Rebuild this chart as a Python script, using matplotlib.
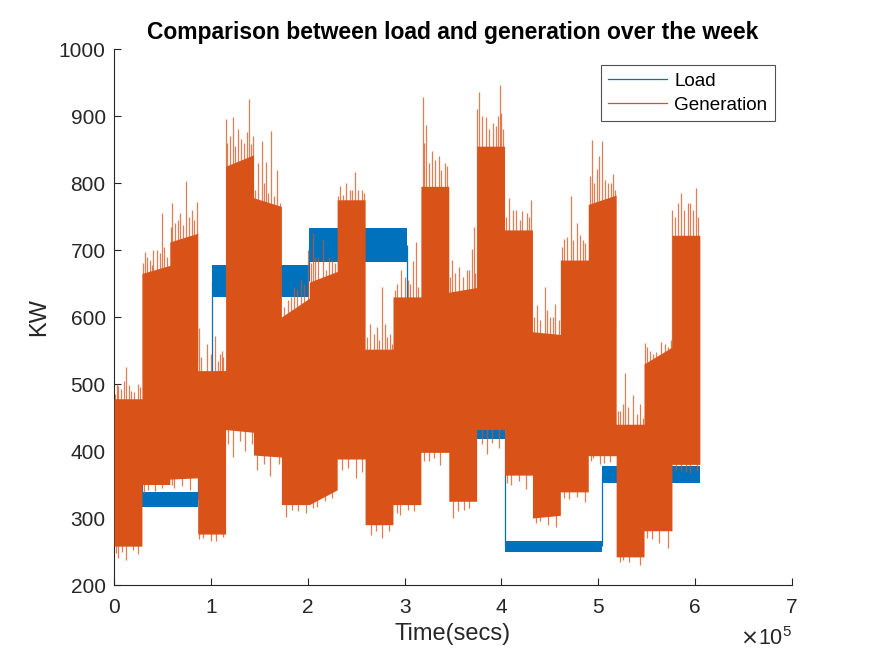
import numpy as np
import matplotlib
matplotlib.use("Agg")
import matplotlib.pyplot as plt
from matplotlib.lines import Line2D

plt.rcParams['font.family'] = ['Liberation Sans', 'DejaVu Sans']

# ---- data (time in units of 1e5 s, power in KW) ----
gen_edges = [0.0, 0.288, 0.576, 0.864, 1.152, 1.44, 1.728, 2.016, 2.304, 2.592, 2.88,
             3.168, 3.456, 3.744, 4.032, 4.32, 4.608, 4.896, 5.184, 5.472, 5.76, 6.048]
# dense part of the generation trace, per 8 h block
gen_top_start = [478, 665, 712, 520, 825, 778, 600, 652, 775, 552, 630,
                 795, 637, 855, 730, 578, 685, 768, 440, 530, 722]
gen_top_end = [478, 677, 725, 520, 842, 765, 628, 668, 775, 552, 630,
               795, 644, 855, 730, 574, 685, 782, 440, 555, 722]
gen_bot_start = [258, 350, 358, 276, 432, 394, 320, 320, 388, 290, 320,
                 398, 325, 432, 364, 300, 339, 393, 242, 281, 380]
gen_bot_end = [258, 350, 360, 276, 428, 391, 320, 342, 388, 290, 320,
               398, 325, 432, 364, 304, 339, 393, 242, 281, 380]

# peaks sticking out above the generation band
peak_t = [0.01, 0.03, 0.045, 0.07, 0.1, 0.124, 0.15, 0.18, 0.21, 0.25, 0.27,
          0.30, 0.32, 0.34, 0.37, 0.39, 0.406, 0.44, 0.475, 0.499, 0.52, 0.55,
          0.59, 0.595, 0.63, 0.66, 0.681, 0.71, 0.746, 0.77, 0.80, 0.83, 0.853,
          0.88, 0.90, 0.96, 1.0, 1.042, 1.07, 1.09, 1.11, 1.13,
          1.156, 1.17, 1.20, 1.225, 1.25, 1.28, 1.31, 1.34, 1.369, 1.39, 1.41, 1.43,
          1.46, 1.49, 1.524, 1.55, 1.569, 1.59, 1.617, 1.65, 1.68, 1.71,
          1.75, 1.80, 1.83, 1.86, 1.89, 1.93, 1.96, 2.0,
          2.03, 2.057, 2.08, 2.11, 2.16, 2.19, 2.22, 2.246, 2.28,
          2.315, 2.33, 2.367, 2.40, 2.44, 2.46, 2.487, 2.52, 2.556, 2.58,
          2.61, 2.642, 2.68, 2.71, 2.74, 2.769, 2.797, 2.82, 2.85, 2.87,
          2.9, 2.92, 2.958, 3.0, 3.04, 3.06, 3.082, 3.117, 3.14,
          3.185, 3.20, 3.226, 3.25, 3.285, 3.31, 3.357, 3.38, 3.415, 3.44,
          3.47, 3.49, 3.52, 3.56, 3.6, 3.64, 3.67, 3.691, 3.715, 3.73,
          3.75, 3.77, 3.8, 3.84, 3.87, 3.915, 3.94, 3.96, 3.99, 4.0, 4.018,
          4.05, 4.08, 4.12, 4.155, 4.19, 4.217, 4.26, 4.28, 4.3,
          4.34, 4.362, 4.4, 4.448, 4.47, 4.5, 4.53, 4.55, 4.59,
          4.63, 4.647, 4.68, 4.713, 4.74, 4.78, 4.81, 4.84, 4.86,
          4.91, 4.93, 4.96, 4.988, 5.01, 5.04, 5.07, 5.10, 5.13, 5.153, 5.17,
          5.2, 5.22, 5.25, 5.28, 5.31, 5.363, 5.4, 5.43, 5.46,
          5.48, 5.5, 5.53, 5.566, 5.6, 5.65, 5.69, 5.72, 5.75,
          5.765, 5.79, 5.82, 5.85, 5.88, 5.925, 5.95, 5.98, 6.01, 6.03]
peak_v = [485, 500, 497, 492, 505, 526, 498, 490, 488, 500, 495,
          680, 697, 690, 685, 678, 700, 700, 695, 755, 705, 690,
          735, 770, 740, 745, 755, 738, 803, 750, 760, 745, 772,
          583, 540, 560, 545, 571, 535, 545, 550, 540,
          896, 860, 870, 898, 855, 880, 865, 860, 876, 926, 858, 870,
          790, 830, 862, 800, 832, 785, 877, 780, 820, 770,
          615, 625, 630, 645, 640, 655, 650, 700,
          680, 725, 690, 690, 715, 670, 690, 685, 680,
          780, 795, 782, 800, 790, 790, 817, 790, 790, 785,
          570, 590, 575, 585, 565, 645, 590, 570, 575, 560,
          640, 650, 670, 660, 655, 650, 683, 712, 645,
          929, 860, 886, 830, 848, 835, 841, 820, 830, 825,
          660, 685, 665, 675, 660, 670, 670, 702, 735, 665,
          911, 936, 900, 899, 880, 890, 885, 900, 946, 905, 880,
          750, 777, 760, 760, 745, 758, 755, 750, 775,
          600, 618, 595, 645, 610, 600, 600, 620, 595,
          705, 717, 720, 780, 715, 740, 722, 715, 710,
          810, 864, 800, 821, 840, 862, 805, 800, 800, 814, 790,
          460, 459, 470, 516, 465, 484, 455, 470, 450,
          561, 555, 550, 545, 548, 563, 560, 555, 565,
          760, 750, 770, 785, 760, 770, 770, 760, 792, 750]

# dips below the generation band
dip_t = [0.02, 0.04, 0.08, 0.12, 0.2, 0.25, 0.31, 0.35, 0.42, 0.5, 0.6, 0.62, 0.7, 0.78,
         0.88, 0.92, 1.0, 1.05, 1.13, 1.18, 1.23, 1.3, 1.35, 1.42, 1.48, 1.55, 1.61, 1.70,
         1.78, 1.84, 1.9, 1.98, 2.05, 2.1, 2.18, 2.25, 2.35, 2.42, 2.5, 2.56,
         2.65, 2.7, 2.77, 2.84, 2.92, 2.95, 3.03, 3.1, 3.2, 3.25, 3.3, 3.37,
         3.5, 3.55, 3.61, 3.66, 3.8, 3.85, 3.9, 3.97, 4.06, 4.1, 4.18, 4.25,
         4.36, 4.4, 4.48, 4.56, 4.65, 4.7, 4.78, 4.86, 4.92, 4.95, 5.02, 5.06, 5.12,
         5.22, 5.25, 5.32, 5.43, 5.5, 5.55, 5.63, 5.72, 5.8, 5.85, 5.9, 5.95, 6.02]
dip_v = [248, 240, 250, 237, 252, 246, 338, 342, 340, 345, 350, 345, 348, 342,
         268, 270, 266, 265, 272, 410, 391, 415, 400, 410, 371, 380, 363, 380,
         302, 312, 310, 308, 315, 317, 325, 330, 372, 375, 359, 368,
         275, 280, 270, 280, 308, 305, 312, 310, 385, 385, 390, 379,
         300, 310, 312, 315, 410, 396, 412, 405, 352, 350, 355, 344,
         292, 295, 290, 286, 330, 328, 332, 324, 385, 390, 380, 382, 384,
         235, 238, 234, 230, 270, 268, 262, 255, 372, 370, 368, 367, 370]

load_edges = [0.0, 0.288, 0.864, 1.008, 2.016, 3.024, 4.032, 5.04, 6.048]
load_low = [400, 317, 465, 630, 682, 418, 249, 353]
load_high = [425, 339, 505, 678, 733, 436, 266, 378]

blue = '#0072BD'
orange = '#D95319'
txt = '#262626'

fig = plt.figure(figsize=(8.75, 6.56), dpi=100)
ax = fig.add_axes([0.1303, 0.1082, 0.7749, 0.8171])

sc = 1e5
# load band
le = np.array(load_edges) * sc
lx = np.repeat(le, 2)[1:-1]
ax.fill_between(lx, np.repeat(load_low, 2), np.repeat(load_high, 2), color=blue, lw=0, zorder=1)
mid = (np.array(load_low) + np.array(load_high)) / 2
ax.vlines(le[1:-1], mid[:-1], mid[1:], color=blue, lw=0.9, zorder=1)

# generation band
ge = np.array(gen_edges) * sc
gx = np.repeat(ge, 2)[1:-1]
gtop = np.column_stack([gen_top_start, gen_top_end]).ravel()
gbot = np.column_stack([gen_bot_start, gen_bot_end]).ravel()
ax.fill_between(gx, gbot, gtop, color=orange, lw=0, zorder=3)

# spikes
gmid = (np.array(gen_top_start) + np.array(gen_bot_start)) / 2
idx = np.clip(np.searchsorted(ge, np.array(peak_t) * sc) - 1, 0, len(gmid) - 1)
ax.vlines(np.array(peak_t) * sc, gmid[idx], peak_v, color=orange, lw=0.9, alpha=0.75, zorder=2)
idx = np.clip(np.searchsorted(ge, np.array(dip_t) * sc) - 1, 0, len(gmid) - 1)
ax.vlines(np.array(dip_t) * sc, dip_v, gmid[idx], color=orange, lw=0.9, alpha=0.75, zorder=2)

ax.set_xlim(0, 7e5)
ax.set_ylim(200, 1000)
ax.set_xticks(np.arange(0, 8) * sc)
ax.set_xticklabels([str(k) for k in range(8)])
ax.set_yticks(np.arange(200, 1001, 100))

for s in ['top', 'right']:
    ax.spines[s].set_visible(False)
for s in ['left', 'bottom']:
    ax.spines[s].set_color(txt)
    ax.spines[s].set_linewidth(0.8)
ax.tick_params(direction='in', length=5, width=0.8, colors=txt, labelsize=15)
ax.tick_params(axis='x', pad=9)
ax.tick_params(axis='y', pad=6)

ax.set_title('Comparison between load and generation over the week',
             fontsize=16.5, fontweight='bold', color='black', pad=7)
ax.set_xlabel('Time(secs)', fontsize=17, color=txt, labelpad=5)
ax.set_ylabel('KW', fontsize=17, color=txt, labelpad=6)
ax.text(1.0, -0.078, r'$\times\mathregular{10^{5}}$', transform=ax.transAxes,
        ha='right', va='top', fontsize=15.5, color=txt)

handles = [Line2D([], [], color=blue, lw=0.9), Line2D([], [], color=orange, lw=0.9)]
leg = ax.legend(handles, ['Load', 'Generation'], loc='upper right',
                bbox_to_anchor=(0.975, 0.97), borderaxespad=0, fontsize=13.6,
                frameon=True, fancybox=False, handlelength=3.1, handletextpad=0.4,
                borderpad=0.4, labelspacing=0.35)
leg.get_frame().set_edgecolor(txt)
leg.get_frame().set_linewidth(0.8)

fig.savefig('out.png', dpi=100)
